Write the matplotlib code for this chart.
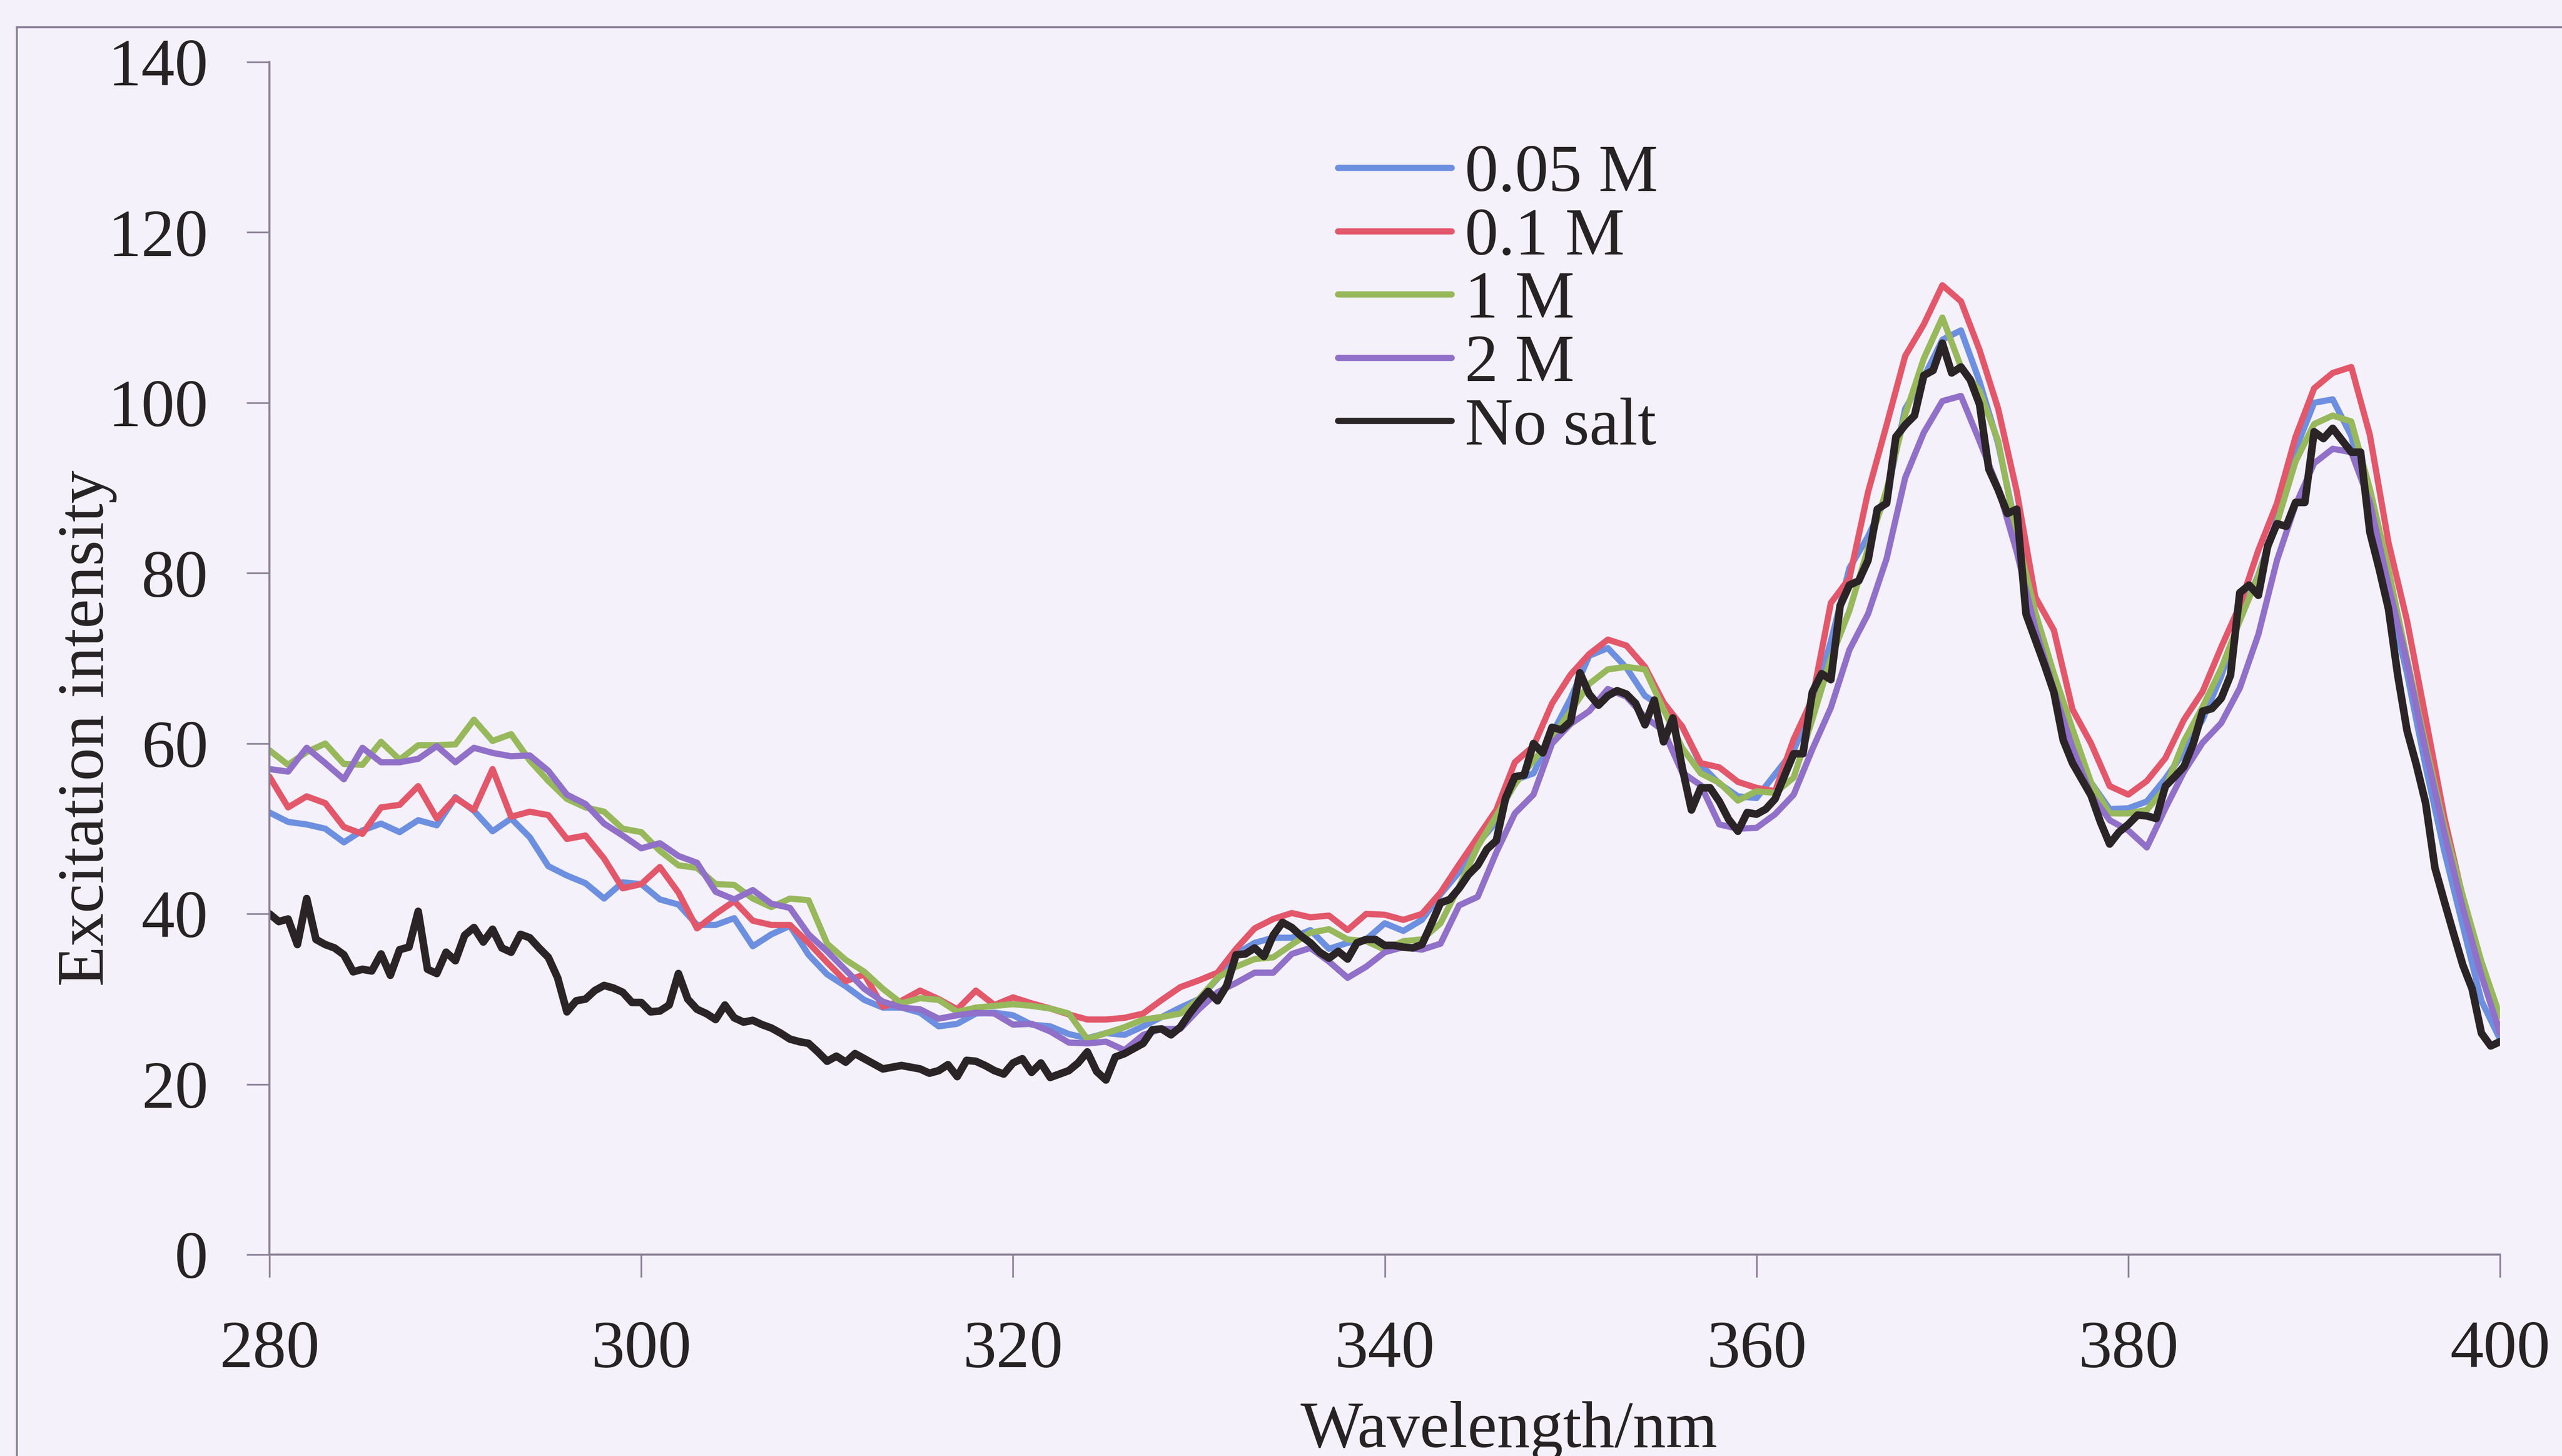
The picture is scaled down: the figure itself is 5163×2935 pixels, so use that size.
import numpy as np
import matplotlib
matplotlib.use("Agg")
import matplotlib.pyplot as plt
from matplotlib.lines import Line2D

plt.rcParams["font.family"] = ["Liberation Serif", "DejaVu Serif"]

# Excitation spectra of the probe at different NaCl concentrations
wl = np.arange(280, 401, 1)           # 1 nm grid for the salt series
wl_fine = np.arange(280, 400.01, 0.5)  # 0.5 nm grid for the salt-free run

m005 = [51.9, 50.8, 50.5, 50.0, 48.4, 49.8, 50.6, 49.6, 51.0, 50.4,
        53.7, 52.1, 49.7, 51.2, 49.0, 45.6, 44.5, 43.6, 41.8, 43.7,
        43.5, 41.7, 41.1, 38.7, 38.7, 39.5, 36.2, 37.6, 38.6, 35.2,
        32.9, 31.5, 29.9, 29.0, 29.0, 28.4, 26.8, 27.1, 28.3, 28.4,
        28.1, 27.0, 26.8, 25.9, 25.4, 26.0, 25.8, 26.8, 27.9, 29.0,
        30.0, 32.4, 35.3, 36.6, 37.2, 37.2, 38.1, 35.9, 36.6, 37.0,
        38.9, 38.0, 39.3, 42.3, 44.9, 48.2, 50.8, 55.7, 56.5, 61.1,
        65.3, 70.3, 71.2, 68.9, 65.6, 64.2, 62.0, 57.5, 55.3, 53.8,
        53.6, 56.4, 59.2, 64.2, 72.0, 80.6, 84.3, 89.0, 99.3, 103.0,
        107.4, 108.5, 102.5, 95.2, 84.9, 74.3, 66.8, 60.5, 55.4, 52.3,
        52.4, 53.2, 55.9, 59.0, 62.8, 67.9, 74.6, 79.8, 86.3, 94.5,
        100.0, 100.4, 96.1, 87.5, 77.4, 68.2, 57.3, 47.4, 38.6, 29.8,
        25.3]

m01 = [56.1, 52.5, 53.8, 53.0, 50.2, 49.4, 52.5, 52.8, 55.0, 51.2,
       53.6, 52.2, 57.0, 51.4, 52.0, 51.6, 48.8, 49.2, 46.5, 43.0,
       43.5, 45.5, 42.5, 38.3, 40.0, 41.5, 39.2, 38.7, 38.7, 36.6,
       34.3, 32.1, 32.9, 29.1, 29.8, 31.0, 30.0, 28.8, 31.0, 29.3,
       30.2, 29.5, 28.9, 28.2, 27.6, 27.6, 27.8, 28.3, 29.9, 31.4,
       32.2, 33.1, 35.9, 38.3, 39.4, 40.1, 39.6, 39.8, 38.1, 40.0,
       39.9, 39.3, 40.0, 42.5, 45.8, 49.0, 52.2, 57.8, 59.7, 64.7,
       68.1, 70.5, 72.2, 71.5, 69.0, 64.8, 62.0, 57.7, 57.2, 55.5,
       54.8, 54.4, 60.5, 65.2, 76.5, 79.4, 89.5, 97.4, 105.5, 109.2,
       113.8, 111.9, 106.2, 99.3, 89.6, 77.2, 73.3, 64.0, 60.0, 55.0,
       54.0, 55.6, 58.3, 62.8, 66.1, 71.3, 76.2, 82.7, 88.2, 96.0,
       101.7, 103.5, 104.2, 96.2, 83.6, 74.4, 63.0, 51.4, 41.9, 33.6,
       26.0]

m1 = [59.2, 57.5, 59.0, 60.0, 57.6, 57.5, 60.2, 58.1, 59.8, 59.8,
      59.9, 62.8, 60.3, 61.1, 58.0, 55.6, 53.5, 52.5, 52.0, 50.0,
      49.6, 47.4, 45.7, 45.4, 43.5, 43.4, 41.8, 40.8, 41.8, 41.6,
      36.5, 34.6, 33.2, 31.2, 29.5, 30.1, 29.9, 28.5, 29.0, 29.2,
      29.4, 29.2, 28.9, 28.3, 25.3, 26.0, 26.7, 27.6, 27.9, 28.3,
      30.0, 32.5, 33.8, 34.7, 34.9, 36.4, 37.8, 38.2, 37.0, 36.8,
      35.8, 36.8, 37.0, 38.9, 43.2, 47.9, 51.5, 55.2, 58.0, 60.7,
      63.8, 67.0, 68.7, 69.0, 68.7, 64.0, 59.5, 56.5, 55.4, 53.3,
      54.4, 54.2, 56.0, 62.8, 70.0, 75.6, 82.9, 89.8, 98.6, 105.2,
      110.0, 104.2, 101.4, 95.5, 84.4, 75.4, 68.2, 61.7, 55.4, 51.8,
      51.8, 52.2, 54.8, 60.3, 64.3, 68.8, 74.4, 79.7, 85.9, 93.1,
      97.5, 98.5, 97.8, 89.9, 80.4, 69.9, 59.9, 50.3, 42.1, 34.4,
      28.0]

m2 = [57.0, 56.7, 59.5, 57.7, 55.8, 59.5, 57.8, 57.8, 58.2, 59.7,
      57.8, 59.5, 58.9, 58.5, 58.6, 56.8, 54.0, 52.9, 50.6, 49.2,
      47.7, 48.3, 46.8, 46.0, 42.6, 41.7, 42.8, 41.2, 40.7, 37.6,
      35.6, 33.4, 31.2, 29.7, 29.0, 28.8, 27.7, 28.1, 28.4, 28.3,
      27.0, 27.1, 26.2, 24.9, 24.8, 25.0, 24.0, 25.8, 26.5, 26.5,
      28.8, 30.8, 31.9, 33.1, 33.1, 35.3, 36.0, 34.4, 32.5, 33.8,
      35.5, 36.1, 35.8, 36.5, 41.0, 42.0, 47.2, 51.8, 54.0, 60.0,
      62.3, 63.8, 66.4, 65.5, 63.1, 61.5, 56.6, 55.1, 50.5, 50.0,
      50.1, 51.7, 54.0, 59.3, 64.2, 71.0, 75.2, 81.7, 91.2, 96.5,
      100.2, 100.8, 95.5, 90.0, 82.5, 73.5, 66.3, 59.5, 54.0, 51.0,
      49.8, 47.8, 52.4, 56.7, 60.1, 62.4, 66.5, 72.8, 81.5, 88.0,
      92.9, 94.6, 94.2, 88.3, 78.6, 69.5, 59.2, 49.6, 40.7, 32.8,
      26.0]

no_salt = [40.0, 39.1, 39.4, 36.4, 41.8, 37.0, 36.4, 36.0, 35.2, 33.2,
           33.5, 33.3, 35.3, 32.8, 35.8, 36.1, 40.3, 33.5, 33.0, 35.5,
           34.5, 37.5, 38.4, 36.7, 38.2, 36.0, 35.5, 37.6, 37.2, 36.0,
           34.9, 32.5, 28.5, 29.8, 30.0, 31.0, 31.6, 31.3, 30.8, 29.6,
           29.6, 28.5, 28.6, 29.3, 33.0, 30.0, 28.8, 28.3, 27.6, 29.3,
           27.8, 27.3, 27.5, 27.0, 26.6, 26.0, 25.3, 25.0, 24.8, 23.8,
           22.7, 23.3, 22.6, 23.6, 23.0, 22.4, 21.8, 22.0, 22.2, 22.0,
           21.8, 21.3, 21.6, 22.3, 20.9, 22.8, 22.7, 22.2, 21.6, 21.2,
           22.5, 23.0, 21.4, 22.5, 20.8, 21.2, 21.6, 22.5, 23.8, 21.5,
           20.5, 23.2, 23.6, 24.2, 24.8, 26.4, 26.5, 25.8, 26.7, 28.3,
           29.7, 30.9, 29.8, 31.6, 35.2, 35.3, 36.0, 35.0, 37.5, 39.0,
           38.4, 37.4, 36.6, 35.5, 34.8, 35.6, 34.7, 36.6, 37.0, 37.0,
           36.3, 36.3, 36.1, 36.0, 36.4, 38.8, 41.3, 41.7, 43.0, 44.6,
           45.7, 47.6, 48.6, 53.6, 56.1, 56.3, 60.0, 58.9, 61.9, 61.6,
           62.6, 68.3, 65.8, 64.5, 65.6, 66.2, 65.8, 64.7, 62.2, 65.1,
           60.2, 63.0, 57.2, 52.2, 54.8, 54.8, 53.2, 51.1, 49.7, 51.9,
           51.7, 52.3, 53.5, 56.2, 58.8, 58.8, 66.0, 68.2, 67.5, 76.2,
           78.6, 79.1, 81.5, 87.5, 88.2, 96.0, 97.4, 98.5, 103.2, 103.8,
           107.0, 103.5, 104.2, 102.7, 99.8, 92.2, 89.8, 87.0, 87.5, 75.2,
           72.2, 69.2, 66.0, 60.4, 57.7, 55.8, 53.9, 50.8, 48.2, 49.6,
           50.5, 51.6, 51.5, 51.2, 55.0, 56.1, 57.3, 60.0, 63.8, 64.1,
           65.3, 68.0, 77.7, 78.6, 77.4, 83.2, 85.8, 85.5, 88.3, 88.3,
           96.6, 95.8, 97.0, 95.6, 94.2, 94.2, 84.8, 80.5, 75.8, 68.0,
           61.5, 57.5, 53.0, 45.4, 41.5, 37.7, 34.0, 31.2, 26.0, 24.5,
           25.0]

labels = ["0.05 M", "0.1 M", "1 M", "2 M", "No salt"]
colors = ["#6d8fe0", "#e3576a", "#98b85c", "#9070c8", "#2a2427"]

bg = "#f4f1fb"
frame_col = "#8d8298"
text_col = "#272224"

fig = plt.figure(figsize=(51.63, 29.35), dpi=100, facecolor=bg)
ax = fig.add_axes([0.1052, 0.1383, 0.8706, 0.8191])
ax.set_facecolor(bg)

series = [m005, m01, m1, m2]
for vals, lab, col in zip(series, labels[:4], colors[:4]):
    ax.plot(wl, vals, color=col, lw=9, label=lab,
            solid_joinstyle="round", solid_capstyle="round")
ax.plot(wl_fine, no_salt, color=colors[4], lw=11, label=labels[4],
        solid_joinstyle="round", solid_capstyle="round")

ax.set_xlim(280, 400)
ax.set_ylim(0, 140)
ax.set_xticks(np.arange(280, 401, 20))
ax.set_yticks(np.arange(0, 141, 20))

for side in ("top", "right"):
    ax.spines[side].set_visible(False)
for side in ("left", "bottom"):
    ax.spines[side].set_color(frame_col)
    ax.spines[side].set_linewidth(3)

ax.tick_params(axis="both", direction="out", length=33, width=2.5,
               color=frame_col, labelsize=97, labelcolor=text_col)
ax.tick_params(axis="y", pad=56)
ax.tick_params(axis="x", pad=62)

# Axis titles
fig.text(0.034, 0.50, "Excitation intensity", rotation=90, fontsize=96,
         color=text_col, ha="center", va="center")
fig.text(0.589, 0.0061, "Wavelength/nm", fontsize=96, color=text_col,
         ha="center", va="baseline")

leg = ax.legend(loc="upper left", bbox_to_anchor=(0.4790, 0.9310),
                frameon=False, fontsize=97, handlelength=1.7,
                handletextpad=0.2, labelspacing=0.03, borderpad=0.0,
                borderaxespad=0.0)
for t in leg.get_texts():
    t.set_color(text_col)
for h in leg.get_lines():
    h.set_linewidth(9)

# Outer chart-area border
fig.add_artist(Line2D([0.0066, 0.0066], [0.0, 0.9813], color=frame_col,
                      lw=3, transform=fig.transFigure))
fig.add_artist(Line2D([0.0066, 1.0], [0.9813, 0.9813], color=frame_col,
                      lw=3, transform=fig.transFigure))

fig.savefig("out.png", dpi=100, facecolor=bg)
